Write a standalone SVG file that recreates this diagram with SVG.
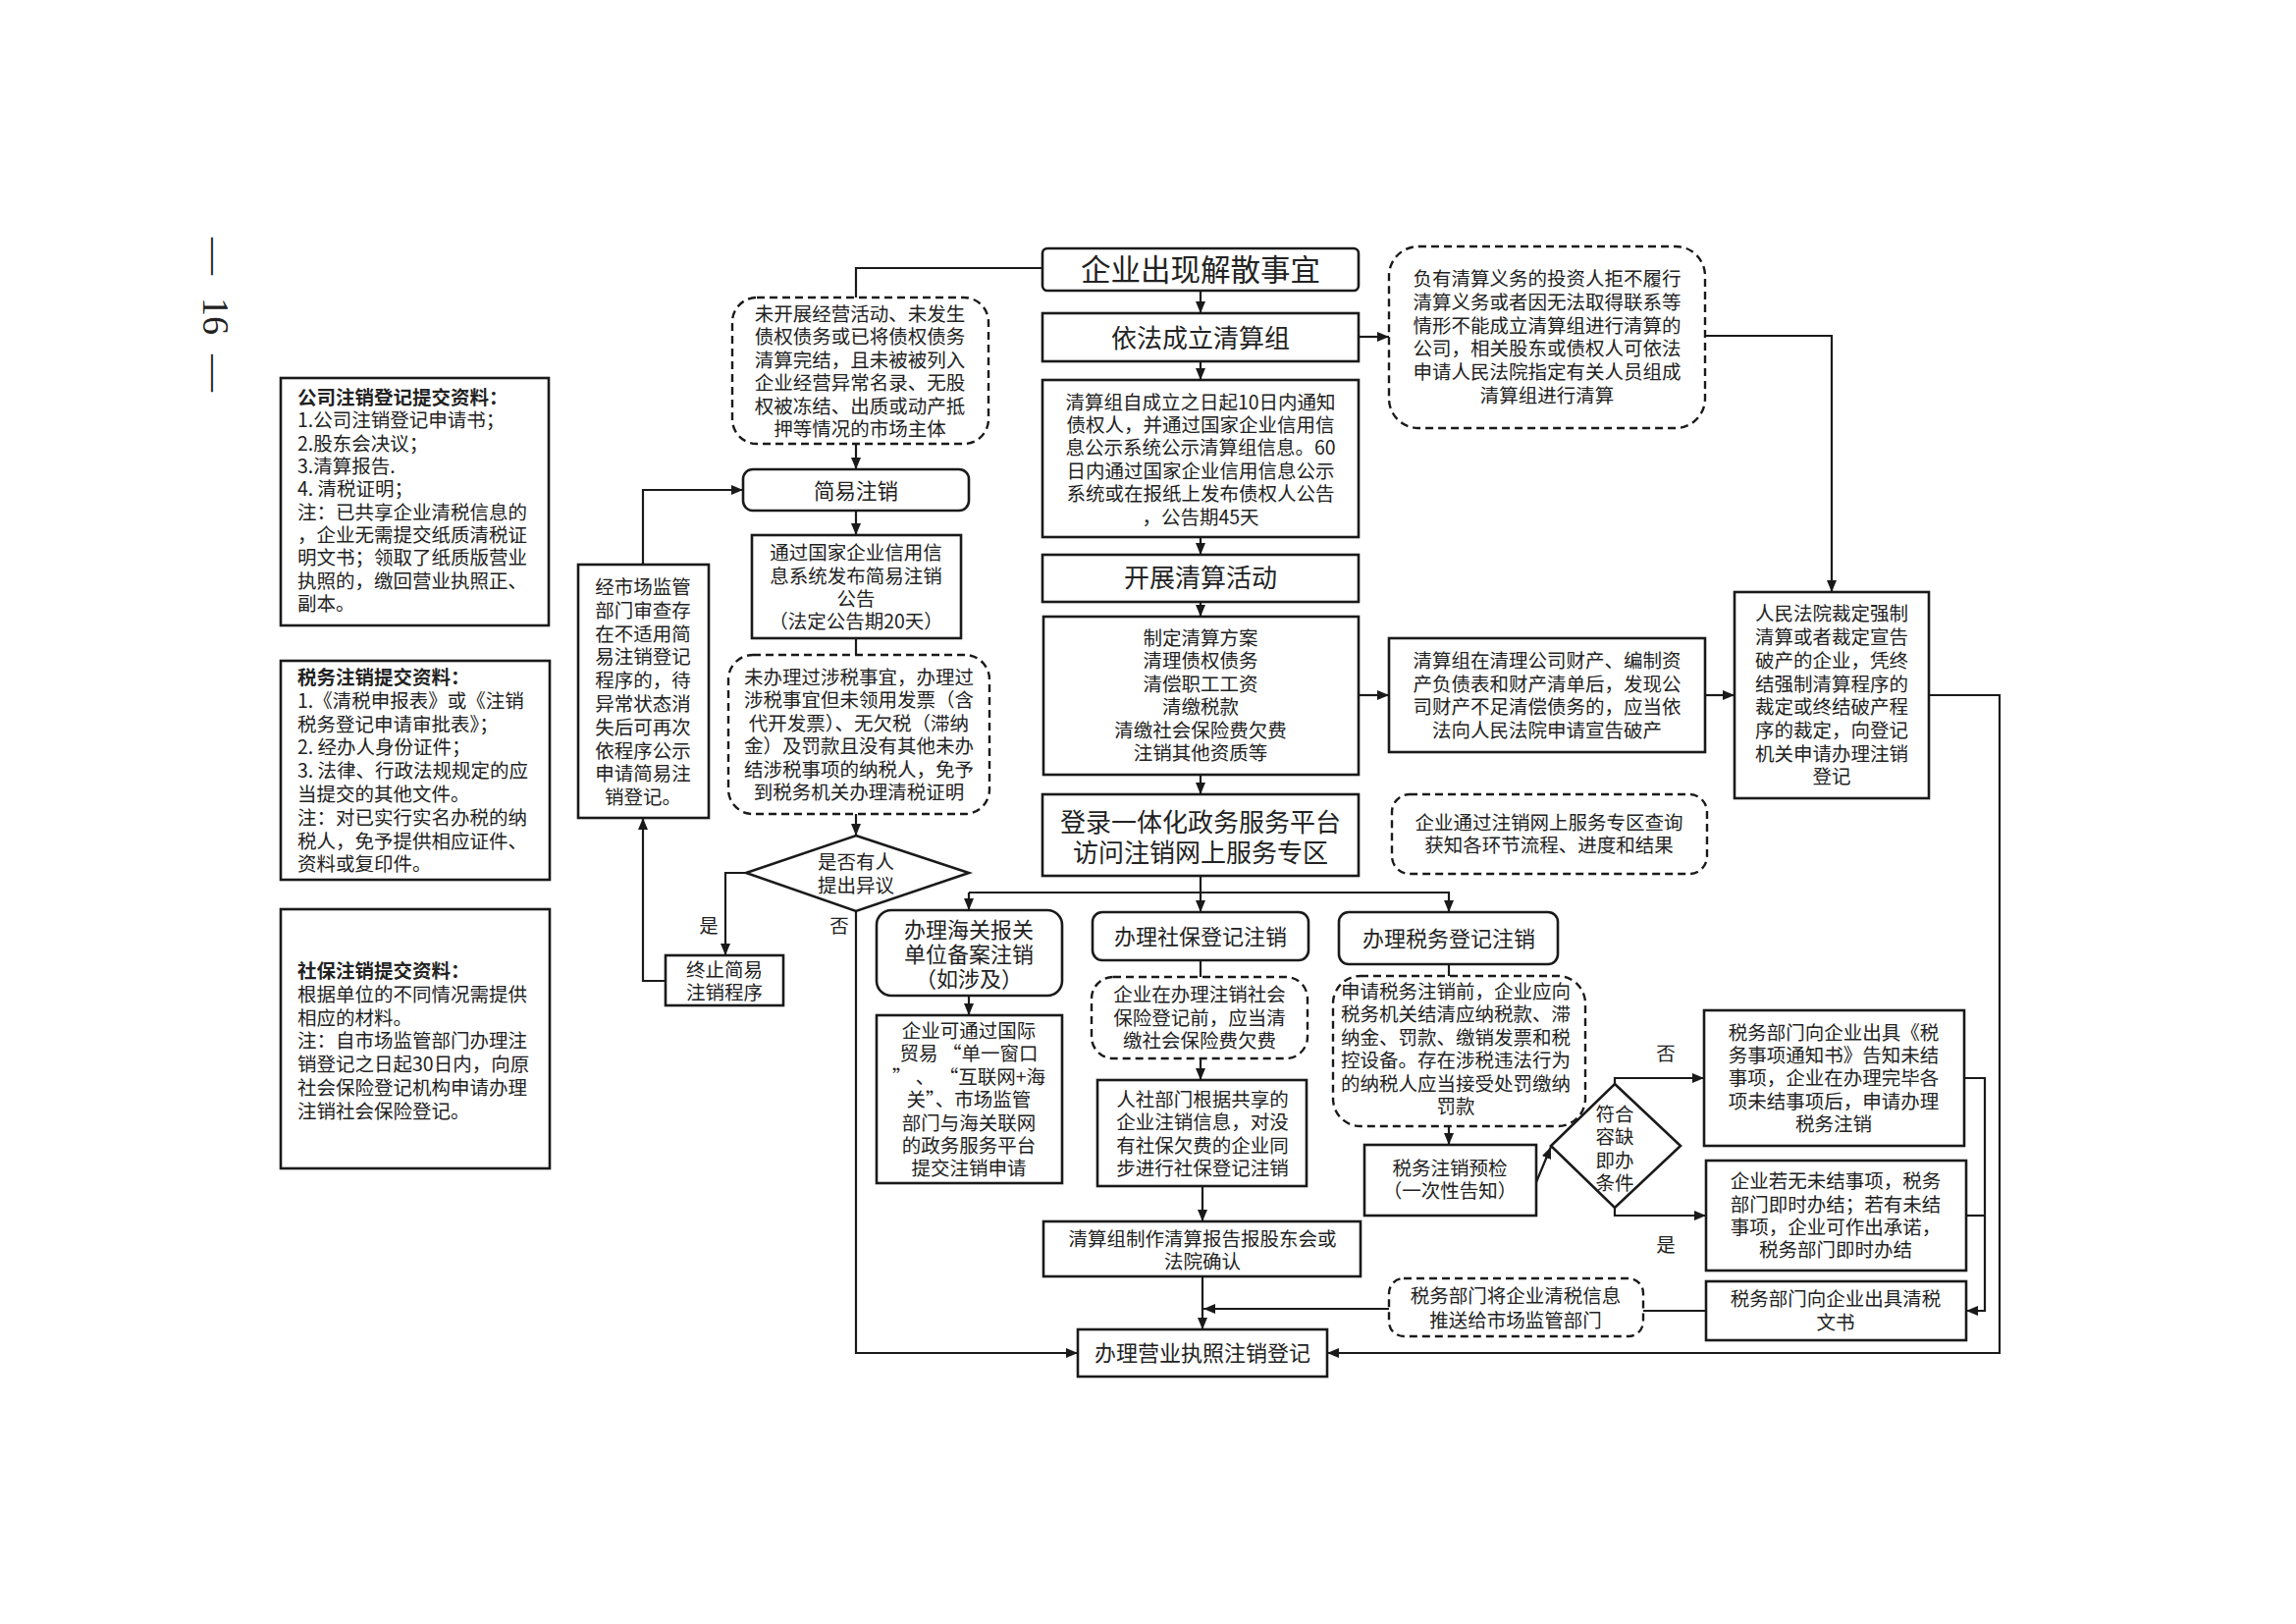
<svg xmlns="http://www.w3.org/2000/svg" width="2339" height="1654" viewBox="0 0 2339 1654">
<defs>
<marker id="ah" viewBox="0 0 12 10" refX="12" refY="5" markerWidth="12" markerHeight="10" markerUnits="userSpaceOnUse" orient="auto"><path d="M0,0 L12,5 L0,10 z" fill="#1a1a1a"/></marker>
</defs>
<style>
.b{fill:#fff;stroke:#1a1a1a;stroke-width:2.6}
.d{fill:#fff;stroke:#1a1a1a;stroke-width:2.4;stroke-dasharray:8 5}
.c{fill:none;stroke:#1a1a1a;stroke-width:2.2}
.a{marker-end:url(#ah)}
.t{font-family:"Noto Sans CJK SC","Noto Sans",sans-serif;font-size:19.5px;fill:#222;text-anchor:middle}
.l{text-anchor:start}
.bd{font-weight:bold}
.m{font-size:22px}
.h{font-size:26px}
.xl{font-size:30.5px}
.pg{font-family:"Liberation Serif",serif;font-size:38px;fill:#222;text-anchor:middle}
</style>
<rect width="2339" height="1654" fill="#fff"/>

<g id="pagenum">
<text class="pg" transform="translate(207,261) rotate(90)">—</text>
<text class="pg" transform="translate(207,322) rotate(90)">16</text>
<text class="pg" transform="translate(207,380) rotate(90)">—</text>
</g>

<g id="connectors">
<path class="c" d="M1062,273 H872 V303"/>
<path class="c a" d="M872,452 V478"/>
<path class="c a" d="M872,520 V545"/>
<path class="c" d="M872,650 V667"/>
<path class="c a" d="M872,829 V851"/>
<path class="c a" d="M760,889 H739 V973"/>
<path class="c a" d="M678,999 H655 V833"/>
<path class="c a" d="M655,575 V499 H757"/>
<path class="c a" d="M872,928 V1378 H1098"/>
<path class="c a" d="M1223,296 V319"/>
<path class="c a" d="M1223,368 V387"/>
<path class="c a" d="M1223,547 V565"/>
<path class="c a" d="M1223,613 V628"/>
<path class="c a" d="M1223,789 V809"/>
<path class="c a" d="M1223,892 V929"/>
<path class="c a" d="M987,909 V927"/>
<path class="c a" d="M987,909 H1476 V929"/>
<path class="c" d="M1223,978 V995"/>
<path class="c a" d="M1223,1078 V1100"/>
<path class="c a" d="M1225,1208 V1244"/>
<path class="c a" d="M1225,1300 V1354"/>
<path class="c a" d="M1415,1333 H1226"/>
<path class="c a" d="M987,1014 V1034"/>
<path class="c" d="M1476,982 V994"/>
<path class="c a" d="M1476,1147 V1166"/>
<path class="c a" d="M1565,1204 L1580,1168"/>
<path class="c a" d="M1645,1104 V1098 H1736"/>
<path class="c a" d="M1645,1230 V1238 H1738"/>
<path class="c a" d="M2001,1098 H2022 V1335 H2003"/>
<path class="c" d="M2003,1238 H2022"/>
<path class="c" d="M1738,1335 H1674"/>
<path class="c a" d="M1965,708 H2037 V1378 H1352"/>
<path class="c a" d="M1737,342 H1866 V603"/>
<path class="c a" d="M1384,343 H1415"/>
<path class="c a" d="M1384,708 H1415"/>
<path class="c a" d="M1737,708 H1767"/>
</g>

<g id="gs-materials">
<rect class="b" x="286" y="385" width="273" height="252"/>
<text class="t l"><tspan class="bd" x="303" y="412">公司注销登记提交资料：</tspan><tspan x="303" y="435">1.公司注销登记申请书；</tspan><tspan x="303" y="459">2.股东会决议；</tspan><tspan x="303" y="482">3.清算报告.</tspan><tspan x="303" y="505">4. 清税证明；</tspan><tspan x="303" y="529">注：已共享企业清税信息的</tspan><tspan x="303" y="552">，企业无需提交纸质清税证</tspan><tspan x="303" y="575">明文书；领取了纸质版营业</tspan><tspan x="303" y="599">执照的，缴回营业执照正、</tspan><tspan x="303" y="622">副本。</tspan></text>
</g>

<g id="tax-materials">
<rect class="b" x="286" y="673" width="274" height="223"/>
<text class="t l"><tspan class="bd" x="303" y="697">税务注销提交资料：</tspan><tspan x="303" y="721">1.《清税申报表》或《注销</tspan><tspan x="303" y="745">税务登记申请审批表》；</tspan><tspan x="303" y="768">2. 经办人身份证件；</tspan><tspan x="303" y="792">3. 法律、行政法规规定的应</tspan><tspan x="303" y="816">当提交的其他文件。</tspan><tspan x="303" y="840">注：对已实行实名办税的纳</tspan><tspan x="303" y="864">税人，免予提供相应证件、</tspan><tspan x="303" y="887">资料或复印件。</tspan></text>
</g>

<g id="ss-materials">
<rect class="b" x="286" y="926" width="274" height="264"/>
<text class="t l"><tspan class="bd" x="303" y="996">社保注销提交资料：</tspan><tspan x="303" y="1020">根据单位的不同情况需提供</tspan><tspan x="303" y="1044">相应的材料。</tspan><tspan x="303" y="1067">注：自市场监管部门办理注</tspan><tspan x="303" y="1091">销登记之日起30日内，向原</tspan><tspan x="303" y="1115">社会保险登记机构申请办理</tspan><tspan x="303" y="1139">注销社会保险登记。</tspan></text>
</g>

<g id="n-start">
<rect class="b" x="1062" y="253" width="322" height="43" rx="5"/>
<text class="t xl" x="1223" y="286">企业出现解散事宜</text>
</g>

<g id="n-group">
<rect class="b" x="1062" y="319" width="322" height="49"/>
<text class="t h" x="1223" y="354">依法成立清算组</text>
</g>

<g id="n-notify">
<rect class="b" x="1062" y="387" width="322" height="160"/>
<text class="t"><tspan x="1223" y="417">清算组自成立之日起10日内通知</tspan><tspan x="1223" y="440">债权人，并通过国家企业信用信</tspan><tspan x="1223" y="463">息公示系统公示清算组信息。60</tspan><tspan x="1223" y="487">日内通过国家企业信用信息公示</tspan><tspan x="1223" y="510">系统或在报纸上发布债权人公告</tspan><tspan x="1223" y="534">，公告期45天</tspan></text>
</g>

<g id="n-activity">
<rect class="b" x="1062" y="565" width="322" height="48"/>
<text class="t h" x="1223" y="598">开展清算活动</text>
</g>

<g id="n-tasks">
<rect class="b" x="1063" y="628" width="321" height="161"/>
<text class="t"><tspan x="1223" y="657">制定清算方案</tspan><tspan x="1223" y="680">清理债权债务</tspan><tspan x="1223" y="704">清偿职工工资</tspan><tspan x="1223" y="727">清缴税款</tspan><tspan x="1223" y="751">清缴社会保险费欠费</tspan><tspan x="1223" y="774">注销其他资质等</tspan></text>
</g>

<g id="n-login">
<rect class="b" x="1062" y="809" width="322" height="83"/>
<text class="t h"><tspan x="1223" y="847">登录一体化政务服务平台</tspan><tspan x="1223" y="878">访问注销网上服务专区</tspan></text>
</g>

<g id="n-simple-cond">
<rect class="d" x="746" y="303" width="261" height="149" rx="25"/>
<text class="t"><tspan x="876" y="327">未开展经营活动、未发生</tspan><tspan x="876" y="350">债权债务或已将债权债务</tspan><tspan x="876" y="374">清算完结，且未被被列入</tspan><tspan x="876" y="397">企业经营异常名录、无股</tspan><tspan x="876" y="421">权被冻结、出质或动产抵</tspan><tspan x="876" y="444">押等情况的市场主体</tspan></text>
</g>

<g id="n-simple">
<rect class="b" x="757" y="478" width="230" height="42" rx="10"/>
<text class="t" style="font-size:21.5px" x="872" y="508">简易注销</text>
</g>

<g id="n-simple-notice">
<rect class="b" x="766" y="545" width="213" height="105"/>
<text class="t"><tspan x="872" y="570">通过国家企业信用信</tspan><tspan x="872" y="594">息系统发布简易注销</tspan><tspan x="872" y="617">公告</tspan><tspan x="872" y="640">（法定公告期20天）</tspan></text>
</g>

<g id="n-tax-exempt">
<rect class="d" x="742" y="667" width="266" height="162" rx="25"/>
<text class="t"><tspan x="875" y="697">未办理过涉税事宜，办理过</tspan><tspan x="875" y="720">涉税事宜但未领用发票（含</tspan><tspan x="875" y="744">代开发票）、无欠税（滞纳</tspan><tspan x="875" y="767">金）及罚款且没有其他未办</tspan><tspan x="875" y="791">结涉税事项的纳税人，免予</tspan><tspan x="875" y="814">到税务机关办理清税证明</tspan></text>
</g>

<g id="n-objection">
<polygon class="b" points="872,851 987,889 872,928 760,889"/>
<text class="t"><tspan x="872" y="885">是否有人</tspan><tspan x="872" y="909">提出异议</tspan></text>
</g>

<g id="n-terminate">
<rect class="b" x="678" y="973" width="120" height="51"/>
<text class="t"><tspan x="738" y="995">终止简易</tspan><tspan x="738" y="1018">注销程序</tspan></text>
</g>

<g id="n-market-review">
<rect class="b" x="589" y="575" width="133" height="258"/>
<text class="t"><tspan x="655" y="605">经市场监管</tspan><tspan x="655" y="629">部门审查存</tspan><tspan x="655" y="653">在不适用简</tspan><tspan x="655" y="676">易注销登记</tspan><tspan x="655" y="700">程序的，待</tspan><tspan x="655" y="724">异常状态消</tspan><tspan x="655" y="748">失后可再次</tspan><tspan x="655" y="772">依程序公示</tspan><tspan x="655" y="795">申请简易注</tspan><tspan x="655" y="819">销登记。</tspan></text>
</g>

<g id="labels-objection">
<text class="t" x="722" y="950">是</text>
<text class="t" x="855" y="950">否</text>
</g>

<g id="n-customs">
<rect class="b" x="893" y="927" width="189" height="87" rx="15"/>
<text class="t m"><tspan x="987" y="955">办理海关报关</tspan><tspan x="987" y="980">单位备案注销</tspan><tspan x="987" y="1005">（如涉及）</tspan></text>
</g>

<g id="n-customs-desc">
<rect class="b" x="893" y="1034" width="189" height="171"/>
<text class="t"><tspan x="987" y="1057">企业可通过国际</tspan><tspan x="987" y="1080">贸易 “单一窗口</tspan><tspan x="987" y="1104">” 、 “互联网+海</tspan><tspan x="987" y="1127">关”、市场监管</tspan><tspan x="987" y="1151">部门与海关联网</tspan><tspan x="987" y="1174">的政务服务平台</tspan><tspan x="987" y="1197">提交注销申请</tspan></text>
</g>

<g id="n-ss">
<rect class="b" x="1113" y="929" width="220" height="49" rx="10"/>
<text class="t m" x="1223" y="962">办理社保登记注销</text>
</g>

<g id="n-ss-cond">
<rect class="d" x="1112" y="995" width="220" height="83" rx="22"/>
<text class="t"><tspan x="1222" y="1020">企业在办理注销社会</tspan><tspan x="1222" y="1044">保险登记前，应当清</tspan><tspan x="1222" y="1067">缴社会保险费欠费</tspan></text>
</g>

<g id="n-ss-sync">
<rect class="b" x="1118" y="1100" width="213" height="108"/>
<text class="t"><tspan x="1225" y="1127">人社部门根据共享的</tspan><tspan x="1225" y="1150">企业注销信息，对没</tspan><tspan x="1225" y="1174">有社保欠费的企业同</tspan><tspan x="1225" y="1197">步进行社保登记注销</tspan></text>
</g>

<g id="n-report">
<rect class="b" x="1063" y="1244" width="323" height="56"/>
<text class="t"><tspan x="1225" y="1269">清算组制作清算报告报股东会或</tspan><tspan x="1225" y="1292">法院确认</tspan></text>
</g>

<g id="n-license">
<rect class="b" x="1098" y="1354" width="254" height="48"/>
<text class="t m" x="1225" y="1386">办理营业执照注销登记</text>
</g>

<g id="n-tax">
<rect class="b" x="1364" y="929" width="223" height="53" rx="10"/>
<text class="t m" x="1476" y="964">办理税务登记注销</text>
</g>

<g id="n-tax-cond">
<rect class="d" x="1358" y="994" width="257" height="153" rx="28"/>
<text class="t"><tspan x="1483" y="1017">申请税务注销前，企业应向</tspan><tspan x="1483" y="1040">税务机关结清应纳税款、滞</tspan><tspan x="1483" y="1064">纳金、罚款、缴销发票和税</tspan><tspan x="1483" y="1087">控设备。存在涉税违法行为</tspan><tspan x="1483" y="1111">的纳税人应当接受处罚缴纳</tspan><tspan x="1483" y="1134">罚款</tspan></text>
</g>

<g id="n-tax-precheck">
<rect class="b" x="1390" y="1166" width="175" height="72"/>
<text class="t"><tspan x="1477" y="1197">税务注销预检</tspan><tspan x="1477" y="1220">（一次性告知）</tspan></text>
</g>

<g id="n-tax-decision">
<polygon class="b" points="1645,1104 1712,1167 1645,1230 1580,1167"/>
<text class="t"><tspan x="1645" y="1142">符合</tspan><tspan x="1645" y="1165">容缺</tspan><tspan x="1645" y="1189">即办</tspan><tspan x="1645" y="1212">条件</tspan></text>
</g>

<g id="labels-tax">
<text class="t" x="1697" y="1080">否</text>
<text class="t" x="1697" y="1275">是</text>
</g>

<g id="n-tax-notice">
<rect class="b" x="1736" y="1029" width="265" height="138"/>
<text class="t"><tspan x="1868" y="1059">税务部门向企业出具《税</tspan><tspan x="1868" y="1082">务事项通知书》告知未结</tspan><tspan x="1868" y="1105">事项，企业在办理完毕各</tspan><tspan x="1868" y="1129">项未结事项后，申请办理</tspan><tspan x="1868" y="1152">税务注销</tspan></text>
</g>

<g id="n-tax-instant">
<rect class="b" x="1738" y="1182" width="265" height="112"/>
<text class="t"><tspan x="1870" y="1210">企业若无未结事项，税务</tspan><tspan x="1870" y="1234">部门即时办结；若有未结</tspan><tspan x="1870" y="1257">事项，企业可作出承诺，</tspan><tspan x="1870" y="1280">税务部门即时办结</tspan></text>
</g>

<g id="n-tax-cert">
<rect class="b" x="1738" y="1305" width="265" height="60"/>
<text class="t"><tspan x="1870" y="1330">税务部门向企业出具清税</tspan><tspan x="1870" y="1354">文书</tspan></text>
</g>

<g id="n-tax-push">
<rect class="d" x="1415" y="1302" width="259" height="59" rx="15"/>
<text class="t"><tspan x="1544" y="1327">税务部门将企业清税信息</tspan><tspan x="1544" y="1352">推送给市场监管部门</tspan></text>
</g>

<g id="n-court-apply">
<rect class="d" x="1415" y="251" width="322" height="185" rx="30"/>
<text class="t"><tspan x="1576" y="291">负有清算义务的投资人拒不履行</tspan><tspan x="1576" y="315">清算义务或者因无法取得联系等</tspan><tspan x="1576" y="339">情形不能成立清算组进行清算的</tspan><tspan x="1576" y="362">公司，相关股东或债权人可依法</tspan><tspan x="1576" y="386">申请人民法院指定有关人员组成</tspan><tspan x="1576" y="410">清算组进行清算</tspan></text>
</g>

<g id="n-bankrupt">
<rect class="b" x="1415" y="650" width="322" height="116"/>
<text class="t"><tspan x="1576" y="680">清算组在清理公司财产、编制资</tspan><tspan x="1576" y="704">产负债表和财产清单后，发现公</tspan><tspan x="1576" y="727">司财产不足清偿债务的，应当依</tspan><tspan x="1576" y="751">法向人民法院申请宣告破产</tspan></text>
</g>

<g id="n-court">
<rect class="b" x="1767" y="603" width="198" height="210"/>
<text class="t"><tspan x="1866" y="632">人民法院裁定强制</tspan><tspan x="1866" y="656">清算或者裁定宣告</tspan><tspan x="1866" y="680">破产的企业，凭终</tspan><tspan x="1866" y="704">结强制清算程序的</tspan><tspan x="1866" y="727">裁定或终结破产程</tspan><tspan x="1866" y="751">序的裁定，向登记</tspan><tspan x="1866" y="775">机关申请办理注销</tspan><tspan x="1866" y="798">登记</tspan></text>
</g>

<g id="n-query">
<rect class="d" x="1418" y="809" width="321" height="81" rx="18"/>
<text class="t"><tspan x="1578" y="845">企业通过注销网上服务专区查询</tspan><tspan x="1578" y="868">获知各环节流程、进度和结果</tspan></text>
</g>
</svg>
